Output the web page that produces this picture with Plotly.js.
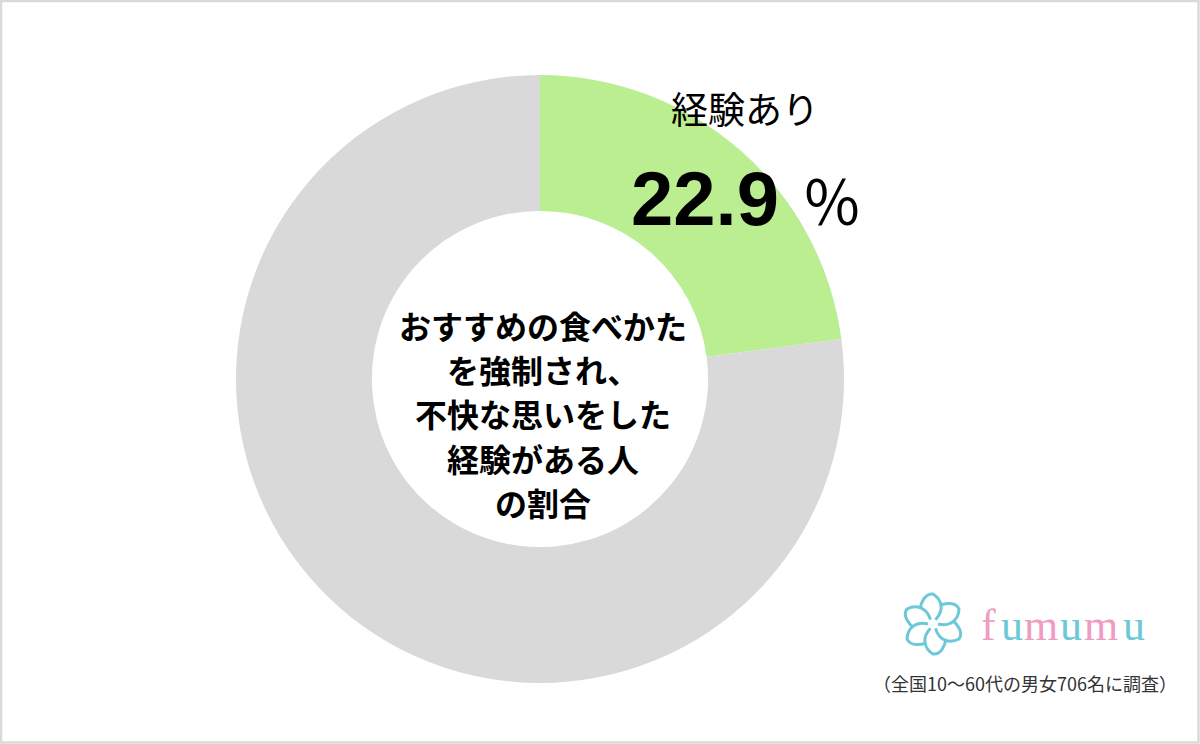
<!DOCTYPE html>
<html>
<head>
<meta charset="utf-8">
<script src="https://cdn.plot.ly/plotly-3.0.1.min.js"></script>
<style>
html,body{margin:0;padding:0;background:#fff;}
#chart{width:1200px;height:744px;}
</style>
</head>
<body>
<div id="chart"></div>
<script>
// Data
const categories = ["経験あり", "経験なし"];
const values = [22.9, 77.1];
const colors = ["#bbed91", "#d9d9d9"];
const centerLines = ["おすすめの食べかた", "を強制され、", "不快な思いをした", "経験がある人", "の割合"];
const highlightLabel = "経験あり";
const highlightValue = "22.9";
const footnote = "（全国10～60代の男女706名に調査）";
const logoLetters = ["f", "u", "m", "u", "m", "u"];

const W = 1200, H = 744;
const px = x => x / W;
const py = y => 1 - y / H;

// Donut geometry (pixels)
const cx = 540, cy = 379, R = 304;

const trace = {
  type: "pie",
  labels: categories,
  values: values,
  marker: { colors: colors, line: { width: 0 } },
  hole: 0.553,
  sort: false,
  direction: "clockwise",
  rotation: 0,
  textinfo: "none",
  hoverinfo: "none",
  showlegend: false,
  domain: { x: [px(cx - R), px(cx + R)], y: [py(cy + R), py(cy - R)] }
};

const annotations = [];
const lineYs = [325, 369, 413, 458, 502];
centerLines.forEach((t, i) => {
  annotations.push({
    xref: "paper", yref: "paper", x: px(543), y: py(lineYs[i]),
    xanchor: "center", yanchor: "middle", showarrow: false, text: "<b>" + t + "</b>",
    font: { family: "Noto Sans CJK JP", size: 32, color: "#000" }
  });
});
annotations.push({
  xref: "paper", yref: "paper", x: px(745), y: py(108),
  xanchor: "center", yanchor: "middle", showarrow: false, text: highlightLabel,
  font: { family: "Noto Sans CJK JP", size: 37, color: "#000" }
});
annotations.push({
  xref: "paper", yref: "paper", x: px(705), y: py(198),
  xanchor: "center", yanchor: "middle", showarrow: false, text: "<b>" + highlightValue + "</b>",
  font: { family: "Liberation Sans", size: 76, color: "#000" }
});
annotations.push({
  xref: "paper", yref: "paper", x: px(832), y: py(198),
  xanchor: "center", yanchor: "middle", showarrow: false, text: "％",
  font: { family: "Noto Sans CJK JP", size: 60, color: "#000" }
});
annotations.push({
  xref: "paper", yref: "paper", x: px(1025), y: py(683),
  xanchor: "center", yanchor: "middle", showarrow: false, text: footnote,
  font: { family: "Noto Sans CJK JP", size: 18, color: "#333" }
});
const letterXs = [988, 1012, 1041, 1071, 1101, 1134];
logoLetters.forEach((l, i) => {
  annotations.push({
    xref: "paper", yref: "paper", x: px(letterXs[i]), y: py(651),
    xanchor: "center", yanchor: "bottom", showarrow: false, text: l,
    font: { family: "Liberation Serif", size: 44, color: i % 2 === 0 ? "#f09cc0" : "#6cc9d7" },
    borderpad: 0
  });
});

// Logo flower (decoration) drawn as pixel-sized paths anchored at logo centre
const shapes = [];
const lcx = 933, lcy = 624;
for (let k = 0; k < 6; k++) {
  const a = k * Math.PI / 3;
  const p = (r, d) => {
    const ang = a + d * Math.PI / 180;
    return (r * Math.cos(ang)).toFixed(1) + "," + (r * Math.sin(ang)).toFixed(1);
  };
  const path = "M" + p(5, 0) + " C" + p(18, -10) + " " + p(26, 10) + " " + p(30, 30) +
               " C" + p(32, 45) + " " + p(24, 60) + " " + p(20, 70);
  shapes.push({
    type: "path", xref: "paper", yref: "paper",
    xsizemode: "pixel", ysizemode: "pixel",
    xanchor: px(lcx), yanchor: py(lcy),
    path: path, line: { color: "#6cc9d7", width: 3 }
  });
}
// outer frame
shapes.push({
  type: "rect", xref: "paper", yref: "paper",
  x0: px(1), x1: px(W - 1.5), y0: py(H - 1.5), y1: py(1),
  line: { color: "#d9d9d9", width: 2.5 }
});

const layout = {
  width: W, height: H,
  margin: { l: 0, r: 0, t: 0, b: 0 },
  paper_bgcolor: "#ffffff",
  plot_bgcolor: "#ffffff",
  showlegend: false,
  annotations: annotations,
  shapes: shapes
};

Plotly.newPlot("chart", [trace], layout, { staticPlot: true, displayModeBar: false });
</script>
</body>
</html>
